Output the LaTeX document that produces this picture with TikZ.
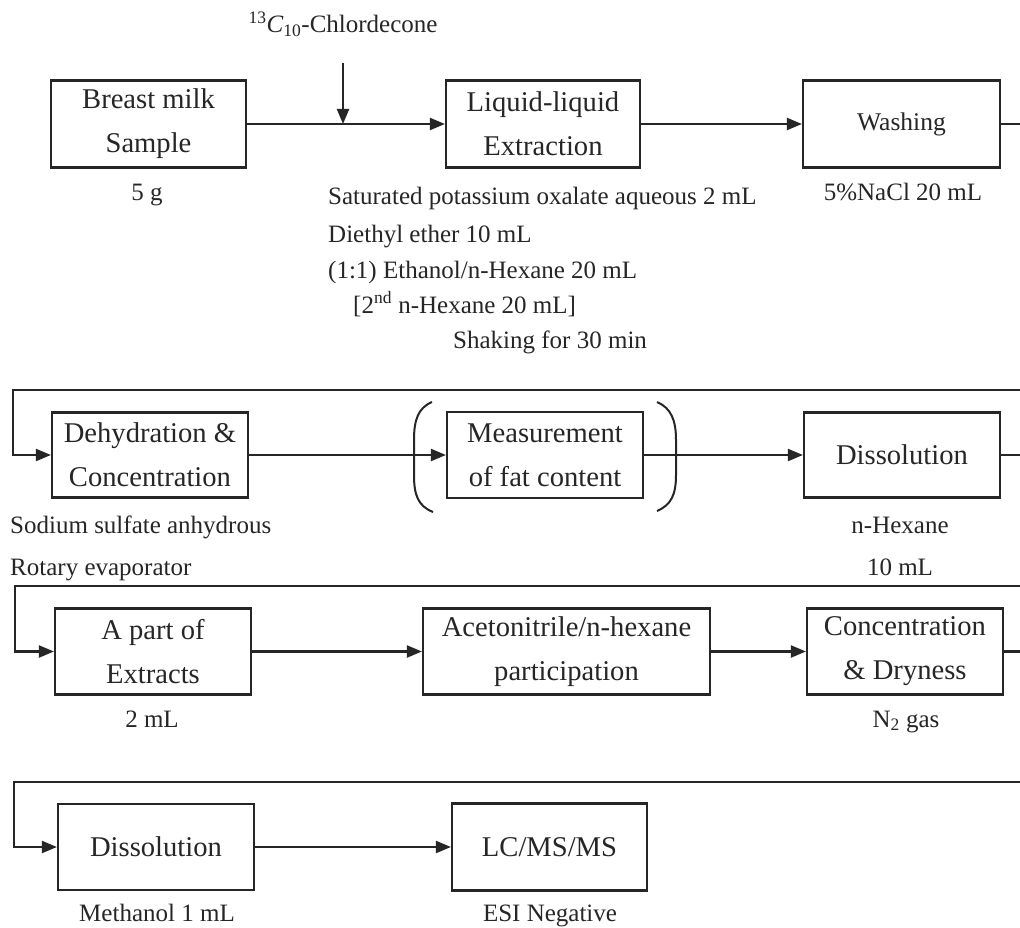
\documentclass[tikz,border=0pt]{standalone}
\usepackage{fontspec}
\setmainfont{Liberation Serif}
\usetikzlibrary{arrows.meta}
\definecolor{ink}{HTML}{262626}
\begin{document}
\begin{tikzpicture}[x=1pt,y=-1pt,
  box/.style={draw=ink, line width=2.2pt, inner sep=0pt, align=center, text=ink,
    font=\fontsize{28.6}{44}\selectfont},
  note/.style={inner sep=0pt, text=ink, font=\fontsize{25}{30}\selectfont},
  flow/.style={draw=ink, line width=2.1pt, -{Triangle[length=15pt,width=12pt]}},
  link/.style={draw=ink, line width=2pt},
]
\useasboundingbox (0,0) rectangle (1020,928);
\fill[white] (0,0) rectangle (1020,928);

% ---- row 1: sampling and extraction
\node[box, minimum width=195pt, minimum height=87pt] (breast) at (148.5,124) {Breast milk\\Sample};
\node[box, minimum width=194pt, minimum height=87pt] (liquid) at (543,124) {Liquid-liquid\\Extraction};
\node[box, minimum width=197pt, minimum height=87pt, font=\fontsize{25.5}{30}\selectfont] (wash) at (901.5,124) {Washing};

\node[note, anchor=base] (spikelabel) at (343,33) {\textsuperscript{13}\textit{C}\textsubscript{10}-Chlordecone};
\coordinate (spike) at (343,63);
\node[note, anchor=base] (mass) at (147,201) {5 g};
\node[note, anchor=base west] (r1a) at (328,205) {Saturated potassium oxalate aqueous 2 mL};
\node[note, anchor=base west] (r1b) at (328,243) {Diethyl ether 10 mL};
\node[note, anchor=base west] (r1c) at (328,278) {(1:1) Ethanol/n-Hexane 20 mL};
\node[note, anchor=base west] (r1d) at (353,313) {[2\textsuperscript{nd} n-Hexane 20 mL]};
\node[note, anchor=base west] (r1e) at (453,348) {Shaking for 30 min};
\node[note, anchor=base] (nacl) at (903,201) {5\%NaCl 20 mL};

% ---- row 2: drying and fat content
\node[box, minimum width=196pt, minimum height=85pt] (dehy) at (150,455) {Dehydration \&\\Concentration};
\node[box, minimum width=196pt, minimum height=86pt] (meas) at (545,455) {Measurement\\of fat content};
\node[box, minimum width=196pt, minimum height=85pt] (diss) at (902,455) {Dissolution};

\node[note, anchor=base west] (na2so4) at (10,533) {Sodium sulfate anhydrous};
\node[note, anchor=base west] (rotary) at (10,575) {Rotary evaporator};
\node[note, anchor=base] (hex) at (900,533) {n-Hexane};
\node[note, anchor=base] (hexvol) at (900,575) {10 mL};

% brackets round the fat measurement
\draw[link] (432,402) .. controls (418,408) and (414,420) .. (414,440)
  -- (414,475) .. controls (414,495) and (418,506) .. (433,512);
\draw[link] (657,402) .. controls (671,408) and (676,420) .. (676,440)
  -- (676,475) .. controls (676,495) and (671,505) .. (657,511);

% ---- row 3: clean-up
\node[box, minimum width=196pt, minimum height=86pt] (apart) at (153,651.5) {A part of\\Extracts};
\node[box, minimum width=287pt, minimum height=86pt] (acet) at (566.5,651.5) {Acetonitrile/n-hexane\\participation};
\node[box, minimum width=196pt, minimum height=86pt] (conc) at (905,651.5) {Concentration\\\& Dryness};

\node[note, anchor=base] (aliquot) at (152,727) {2 mL};
\node[note, anchor=base] (ngas) at (906,727) {N\textsubscript{2} gas};

% ---- row 4: analysis
\node[box, minimum width=196pt, minimum height=86pt] (diss2) at (156,847) {Dissolution};
\node[box, minimum width=195pt, minimum height=87pt] (lcms) at (549.5,847) {LC/MS/MS};

\node[note, anchor=base] (meoh) at (157,921) {Methanol 1 mL};
\node[note, anchor=base] (esi) at (550,921) {ESI Negative};

% ---- turning points of the row-to-row connectors
\coordinate (r1) at (1035,390);  \coordinate (l1) at (13,390);
\coordinate (r2) at (1035,586);  \coordinate (l2) at (15,586);
\coordinate (r3) at (1035,782);  \coordinate (l3) at (14,782);

% ---- connectors
\draw[flow] (breast.east) -- (liquid.west);
\draw[flow] (spike) -- (spike |- breast.east);
\draw[flow] (liquid.east) -- (wash.west);
\draw[flow] (wash.east) -| (r1) -- (l1) |- (dehy.west);

\draw[flow] (dehy.east) -- (meas.west);
\draw[flow] (meas.east) -- (diss.west);
\draw[flow] (diss.east) -| (r2) -- (l2) |- (apart.west);

\draw[flow] (apart.east) -- (acet.west);
\draw[flow] (acet.east) -- (conc.west);
\draw[flow] (conc.east) -| (r3) -- (l3) |- (diss2.west);

\draw[flow] (diss2.east) -- (lcms.west);
\end{tikzpicture}
\end{document}
